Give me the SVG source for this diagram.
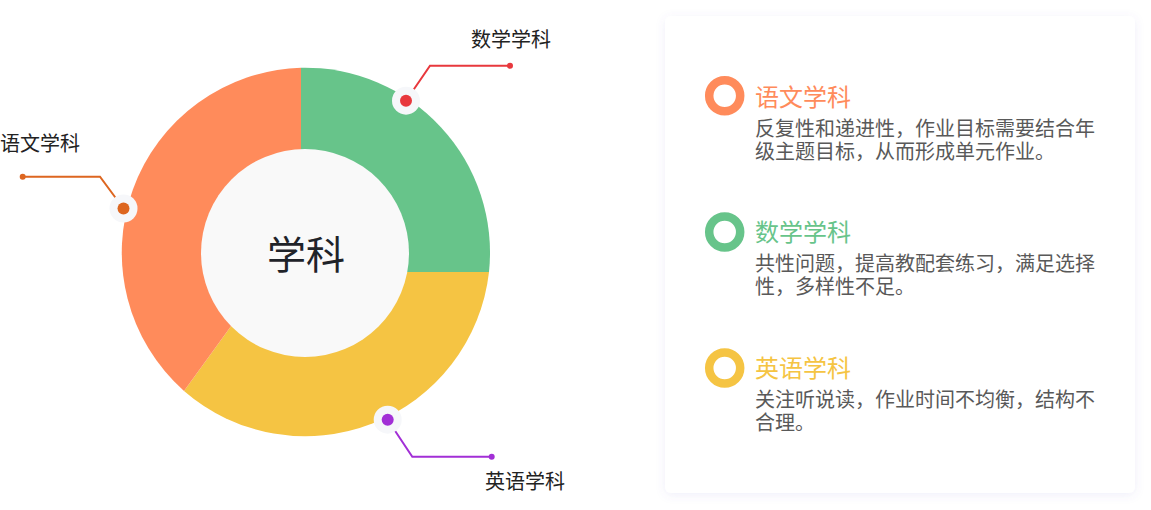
<svg xmlns="http://www.w3.org/2000/svg" width="1151" height="510" viewBox="0 0 1151 510">
  <defs>
    <filter id="shadow" x="-10%" y="-10%" width="120%" height="120%">
      <feDropShadow dx="0" dy="2" stdDeviation="5" flood-color="#6a5acd" flood-opacity="0.1"/>
    </filter>
    <style>
      .lbl { font-family: "Noto Sans CJK SC", "Noto Sans", sans-serif; font-size: 20px; fill: #222222; }
      .center { font-family: "Noto Sans CJK SC", "Noto Sans", sans-serif; font-size: 39px; fill: #1f2329; }
      .title { font-family: "Noto Sans CJK SC", "Noto Sans", sans-serif; font-size: 24px; }
      .body { font-family: "Noto Sans CJK SC", "Noto Sans", sans-serif; font-size: 20px; fill: #595959; }
      .halo { fill: #f6f7fa; }
      .lead { fill: none; stroke-width: 2; }
      .ring { fill: none; stroke-width: 8.5; }
    </style>
  </defs>
  <rect width="1151" height="510" fill="#ffffff"/>

  <g id="donut">
    <path d="M301,272 L301,67.7 A185,185 0 0 1 489,272 Z" fill="#67c48a"/>
    <path d="M270.4,272 L489,272 A185,185 0 0 1 184,391 Z" fill="#f5c443"/>
    <path d="M301,229.9 L184,391 A185,185 0 0 1 301,67.7 Z" fill="#ff8b5b"/>
    <circle cx="305" cy="253" r="104" fill="#f9f9f9"/>
    <text class="center" x="306" y="269" text-anchor="middle">学科</text>
  </g>

  <g id="connectors">
    <polyline class="lead" stroke="#e8383d" points="406,100.7 430,65.7 510,65.7"/>
    <polyline class="lead" stroke="#dd6620" points="123.5,208.5 100,176.7 22.7,176.7"/>
    <polyline class="lead" stroke="#a22fd6" points="387.7,419.7 412.3,456.7 491.7,456.7"/>
  </g>

  <g id="node-math">
    <circle class="halo" cx="406" cy="100.7" r="14"/>
    <circle cx="406" cy="100.7" r="6" fill="#e8383d"/>
    <circle cx="510" cy="65.7" r="3" fill="#e8383d"/>
    <text class="lbl" x="471" y="47">数学学科</text>
  </g>

  <g id="node-chinese">
    <circle class="halo" cx="123.5" cy="208.5" r="14"/>
    <circle cx="123.5" cy="208.5" r="6" fill="#dd6620"/>
    <circle cx="22.7" cy="176.7" r="3" fill="#dd6620"/>
    <text class="lbl" x="0" y="151">语文学科</text>
  </g>

  <g id="node-english">
    <circle class="halo" cx="387.7" cy="419.7" r="14"/>
    <circle cx="387.7" cy="419.7" r="6" fill="#a22fd6"/>
    <circle cx="491.7" cy="456.7" r="3" fill="#a22fd6"/>
    <text class="lbl" x="485" y="489">英语学科</text>
  </g>

  <g id="panel">
    <rect x="665" y="16" width="470" height="477" rx="6" ry="6" fill="#ffffff" filter="url(#shadow)"/>
  </g>

  <g id="item-chinese">
    <circle class="ring" cx="724.7" cy="95.8" r="15.5" stroke="#ff8b5b"/>
    <text class="title" x="755" y="106" fill="#ff8b5b">语文学科</text>
    <text class="body"><tspan x="755" y="136">反复性和递进性，作业目标需要结合年</tspan><tspan x="755" y="159">级主题目标，从而形成单元作业。</tspan></text>
  </g>

  <g id="item-math">
    <circle class="ring" cx="724.7" cy="232" r="15.5" stroke="#67c48a"/>
    <text class="title" x="755" y="241" fill="#67c48a">数学学科</text>
    <text class="body"><tspan x="755" y="271">共性问题，提高教配套练习，满足选择</tspan><tspan x="755" y="294">性，多样性不足。</tspan></text>
  </g>

  <g id="item-english">
    <circle class="ring" cx="724.7" cy="368" r="15.5" stroke="#f5c443"/>
    <text class="title" x="755" y="377" fill="#f5c443">英语学科</text>
    <text class="body"><tspan x="755" y="407">关注听说读，作业时间不均衡，结构不</tspan><tspan x="755" y="430">合理。</tspan></text>
  </g>
</svg>
